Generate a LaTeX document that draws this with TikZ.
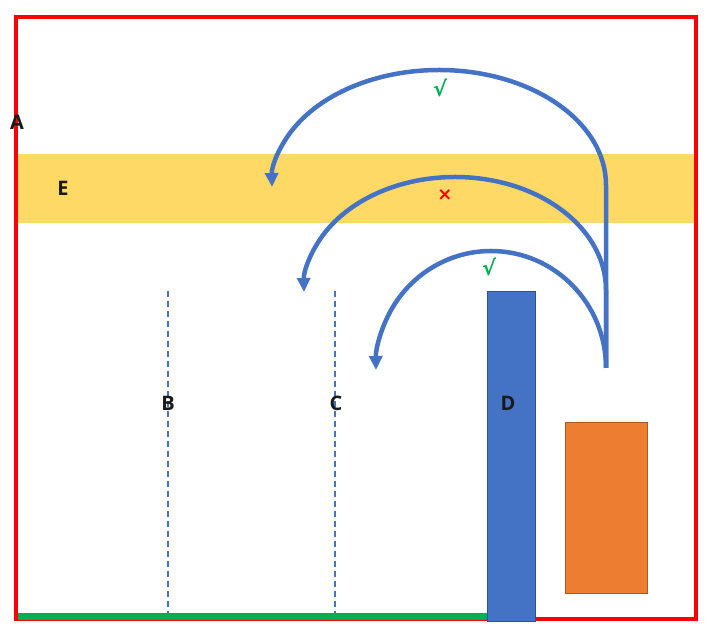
\documentclass[tikz,border=0pt]{standalone}
\usepackage{fontspec}
\setmainfont{Open Sans}
\newfontfamily\symfont{DejaVu Sans}
\usetikzlibrary{arrows.meta}
\definecolor{frameRed}{HTML}{FF0000}
\definecolor{bandYellow}{HTML}{FFD966}
\definecolor{barBlue}{HTML}{4472C4}
\definecolor{barBorder}{HTML}{2F528F}
\definecolor{boxOrange}{HTML}{ED7D31}
\definecolor{boxBorder}{HTML}{AE5A21}
\definecolor{okGreen}{HTML}{00B050}
\tikzset{
  lbl/.style={font=\bfseries\fontsize{20}{22}\selectfont, inner sep=0pt, text=black!90},
  markok/.style={font=\symfont\bfseries\fontsize{21}{22}\selectfont, text=okGreen, inner sep=0pt},
  markno/.style={font=\symfont\bfseries\fontsize{18}{19}\selectfont, text=frameRed, inner sep=0pt},
  jump/.style={draw=barBlue, line width=4.5pt, -{Triangle[length=14pt,width=13pt]}},
  guide/.style={draw=barBlue, line width=1.2pt, dash pattern=on 6pt off 4pt},
}
\begin{document}
\begin{tikzpicture}[x=1pt,y=1pt]
\useasboundingbox (0,0) rectangle (712,636);
% band E
\node[fill=bandYellow, minimum width=676pt, minimum height=69pt, inner sep=0pt] (band) at (356,447.5) {};
% dashed guides
\coordinate (btop) at (168,345); \coordinate (bbot) at (168,22);
\coordinate (ctop) at (335,345); \coordinate (cbot) at (335,22);
\draw[guide] (btop) -- (bbot);
\draw[guide] (ctop) -- (cbot);
% frame
\node[draw=frameRed, line width=4pt, minimum width=680pt, minimum height=602pt, inner sep=0pt] (frame) at (356,318) {};
% green ground
\coordinate (g1) at (18,19); \coordinate (g2) at (487,19);
\draw[okGreen, line width=7pt] (g1) -- (g2);
% blue bar D
\node[fill=barBlue, draw=barBorder, line width=0.8pt, minimum width=48pt, minimum height=330pt, inner sep=0pt] (bar) at (511,180) {};
% orange box
\node[fill=boxOrange, draw=boxBorder, line width=0.8pt, minimum width=82pt, minimum height=171pt, inner sep=0pt] (box) at (606,128.5) {};
% arcs
\coordinate (start) at (606,268);
\draw[jump] (start) -- (606,451) arc[start angle=0, end angle=181, x radius=167, y radius=115];
\draw[jump] (start) -- (606,346) arc[start angle=0, end angle=181, x radius=151, y radius=113];
\draw[jump] (start) arc[start angle=0, end angle=181, x radius=115, y radius=117];
% labels
\node[lbl] (A) at (17,514) {A};
\node[lbl] (E) at (63,448) {E};
\node[lbl] (B) at (168,233) {B};
\node[lbl] (C) at (336,233) {C};
\node[lbl] (D) at (508,233) {D};
\node[markok] (ok1) at (440,548) {√};
\node[markno] (no1) at (445,441) {×};
\node[markok] (ok2) at (489,369) {√};
\end{tikzpicture}
\end{document}
